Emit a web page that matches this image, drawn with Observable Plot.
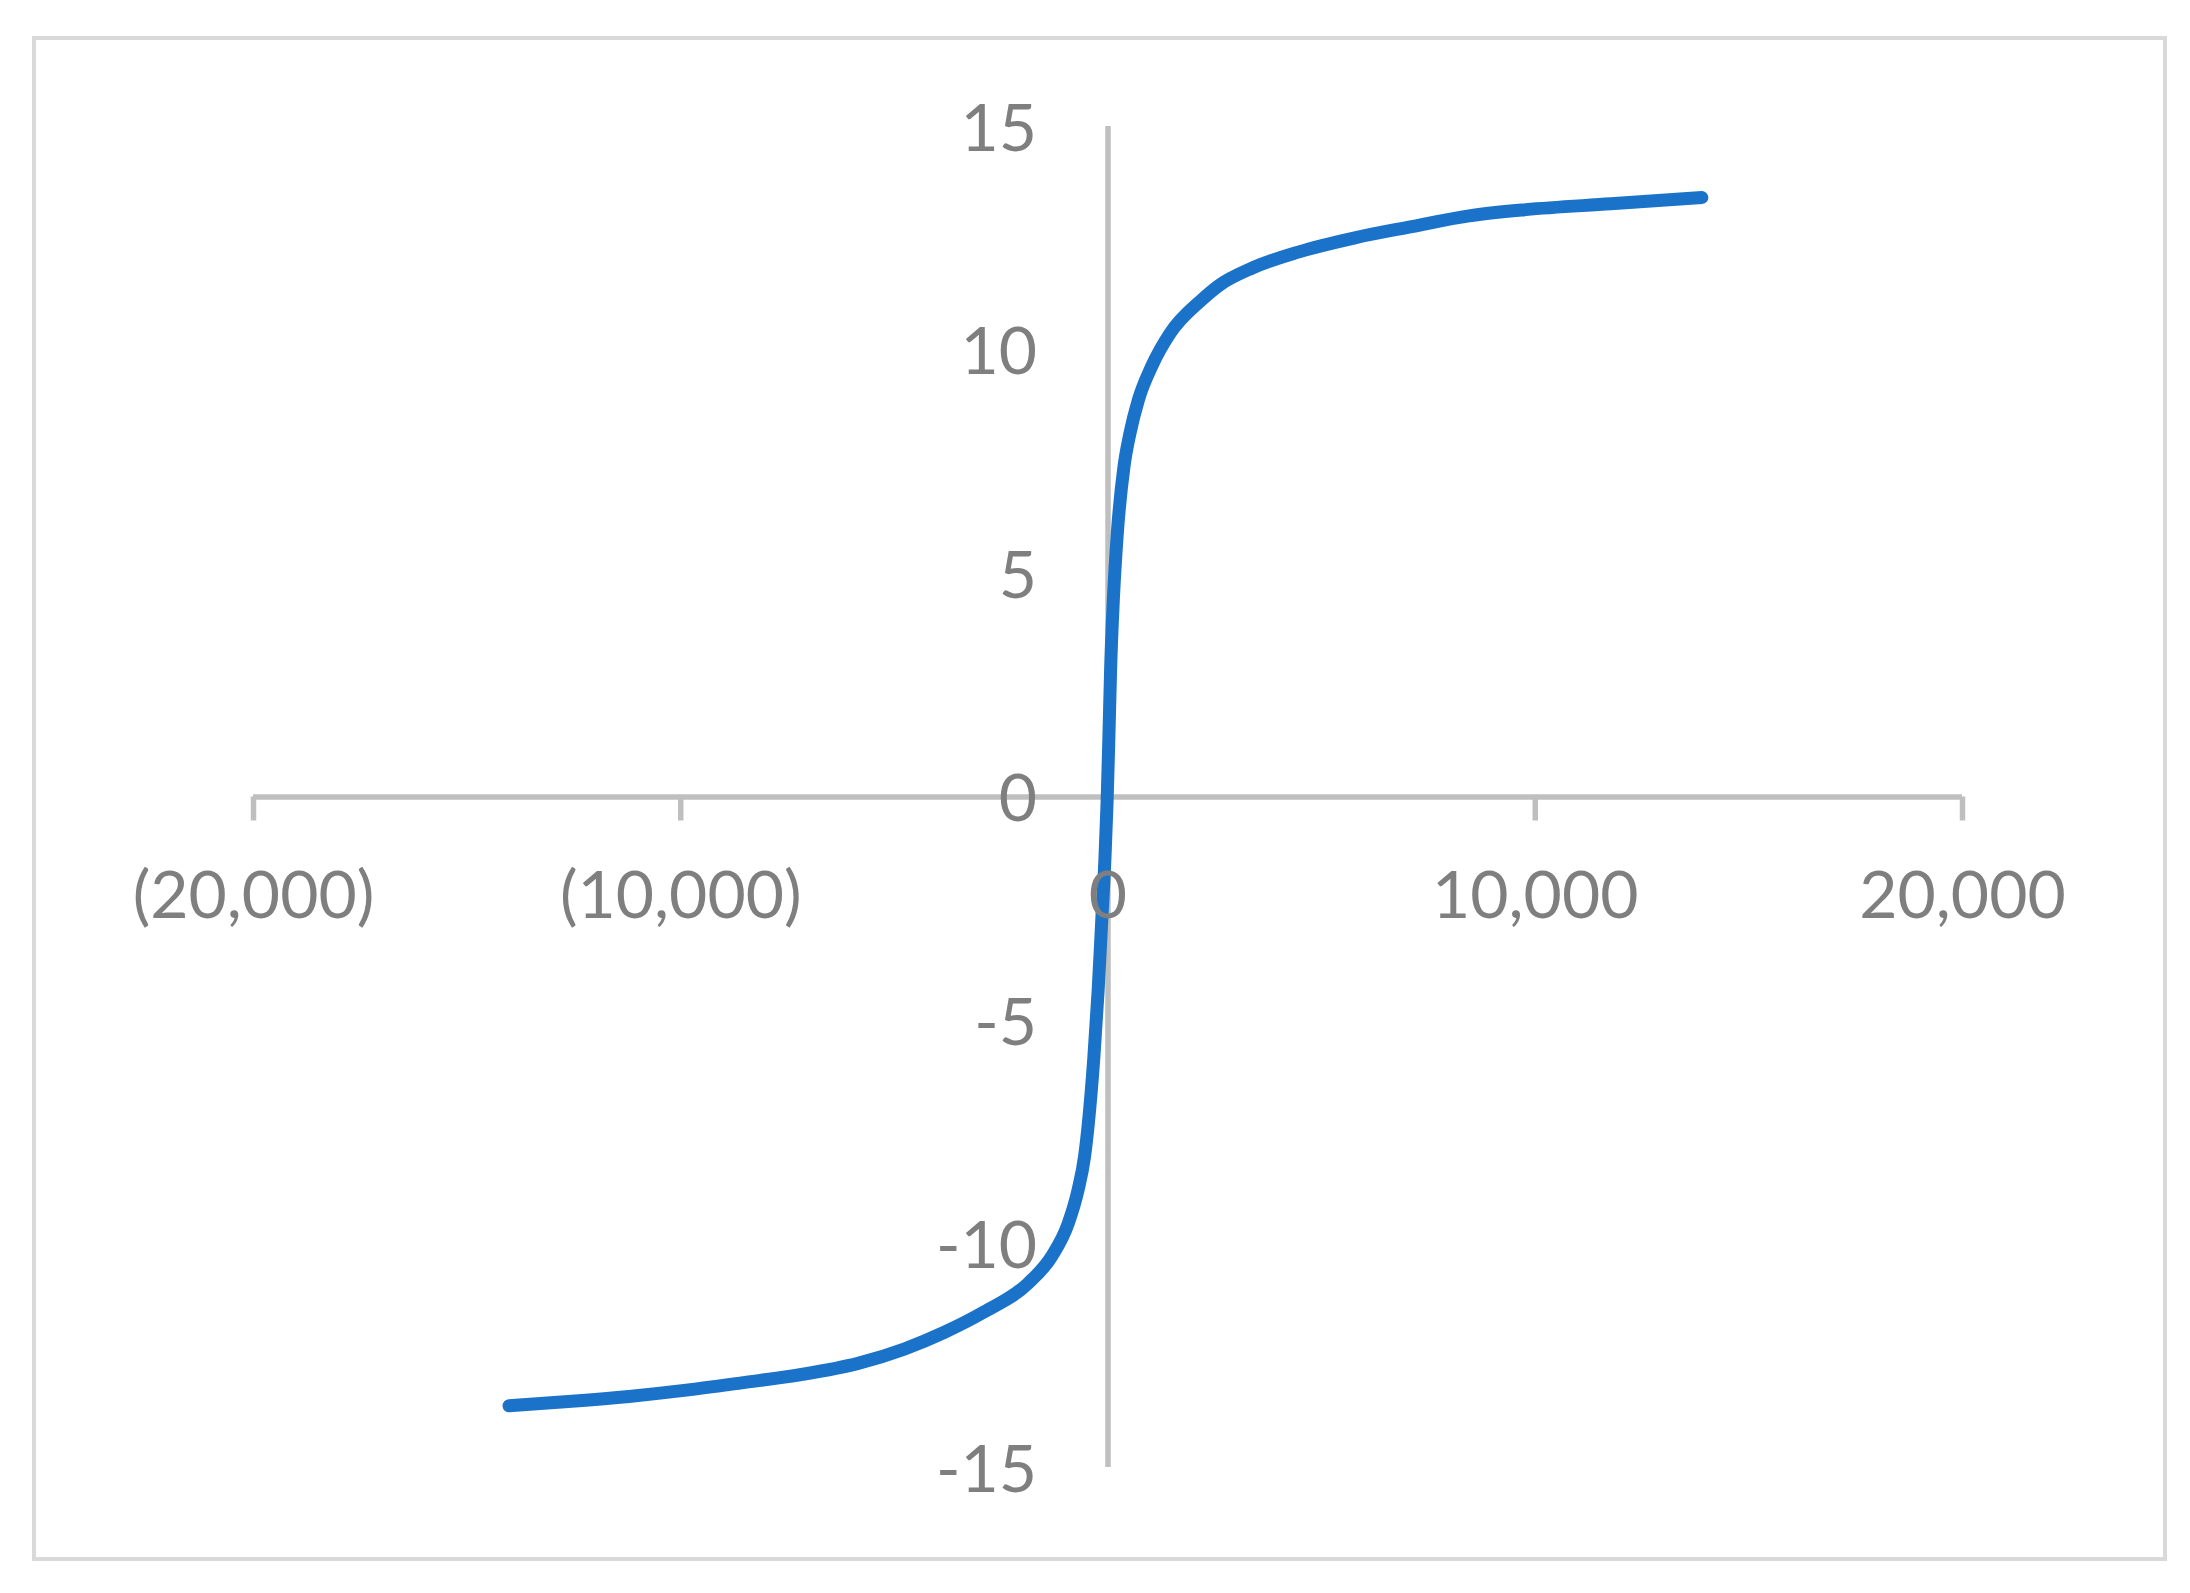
<!DOCTYPE html>
<html>
<head>
<meta charset="utf-8">
<script src="https://cdn.jsdelivr.net/npm/d3@7"></script>
<script src="https://cdn.jsdelivr.net/npm/@observablehq/plot@0.6"></script>
<style>
  html, body { margin: 0; padding: 0; background: #ffffff; }
  #wrap { position: relative; width: 2190px; height: 1593px; overflow: hidden; }
  #border { position: absolute; left: 32px; top: 36px; width: 2135px; height: 1525px;
            box-sizing: border-box; border: 4px solid #d9d9d9; pointer-events: none; }
  #chart { position: absolute; left: 0; top: 0; }
</style>
</head>
<body>
<div id="wrap"><div id="chart"></div><div id="border"></div></div>
<script>
// Tick values and labels
const xTicks = [-20000, -10000, 0, 10000, 20000];
const xTickLabels = ["(20,000)", "(10,000)", "0", "10,000", "20,000"];
const yTicks = [15, 10, 5, 0, -5, -10, -15];
const yTickLabels = ["15", "10", "5", "0", "-5", "-10", "-15"];

// Series
const fieldX = [-14020, -12550, -11210, -9870, -8530, -7180, -5850, -4770, -3840, -2900,
                -1870, -1320, -930, -700, -550, -460, -330, -230, -150, -70,
                -20, 23, 63, 125, 218, 374, 515, 710, 1020, 1450,
                2190, 2590, 3390, 4450, 5780, 7110, 8450, 9780, 11770, 13900];
const valueY = [-13.62, -13.52, -13.41, -13.27, -13.10, -12.92, -12.67, -12.35, -11.98, -11.52,
                -10.88, -10.28, -9.54, -8.79, -8.05, -7.30, -5.81, -4.32, -2.83, -1.34,
                -0.07, 1.42, 2.92, 4.41, 5.90, 7.39, 8.14, 8.88, 9.63, 10.37,
                11.12, 11.44, 11.84, 12.19, 12.51, 12.76, 13.0, 13.14, 13.27, 13.41];

const points = fieldX.map((x, i) => ({x, y: valueY[i]}));
const axisColor = "#bfbfbf";
const textColor = "#7f7f7f";
const font = "Lato, 'Open Sans', sans-serif";

const chart = Plot.plot({
  width: 2190,
  height: 1593,
  marginLeft: 253,
  marginRight: 228,
  marginTop: 126,
  marginBottom: 126,
  style: {fontFamily: font, background: "transparent", overflow: "visible"},
  x: {domain: [-20000, 20000], axis: null},
  y: {domain: [-15, 15], axis: null},
  marks: [
    Plot.ruleY([0], {stroke: axisColor, strokeWidth: 5.5}),
    Plot.ruleX(xTicks, {x: d => d, y1: () => 0, y2: () => 0, insetBottom: -24, stroke: axisColor, strokeWidth: 5.5}),
    Plot.ruleX([0], {stroke: axisColor, strokeWidth: 5.5}),
    Plot.line(points, {x: "x", y: "y", stroke: "#1a73c8", strokeWidth: 13, strokeLinecap: "round", strokeLinejoin: "round", curve: "monotone-x"}),
    Plot.text(xTicks, {x: d => d, y: () => 0, text: (d, i) => xTickLabels[i], dy: 100, fontSize: 66, fill: textColor, textAnchor: "middle"}),
    Plot.text(yTicks, {x: () => 0, y: d => d, text: (d, i) => yTickLabels[i], dx: -71, dy: 3, fontSize: 66, fill: textColor, textAnchor: "end"})
  ]
});
document.getElementById("chart").appendChild(chart);
</script>
</body>
</html>
